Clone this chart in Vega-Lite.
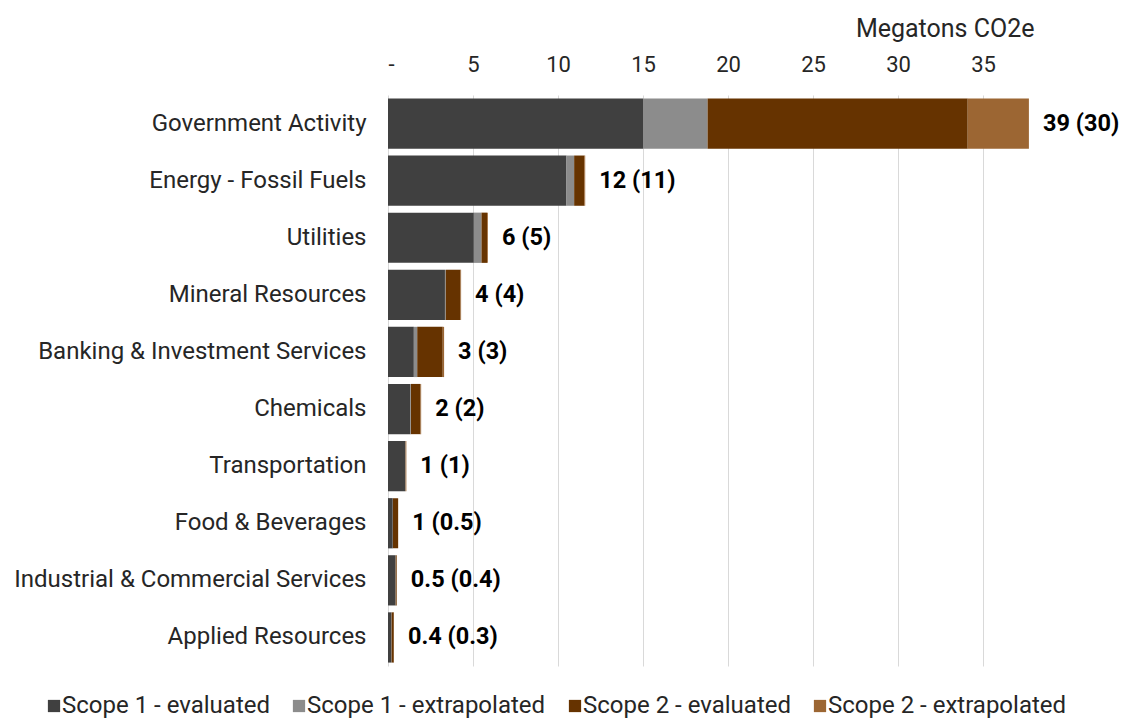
{
  "$schema": "https://vega.github.io/schema/vega-lite/v6.json",
  "width": 646,
  "height": 571,
  "autosize": {"type": "none"},
  "padding": {"left": 388, "top": 95, "right": 94, "bottom": 52},
  "background": "white",
  "config": {
    "font": "Roboto",
    "view": {"stroke": null}
  },
  "data": {
    "values": [
      {"category": "Government Activity", "scope": "Scope 1 - evaluated", "order": 1, "value": 15.0, "label": "39 (30)"},
      {"category": "Government Activity", "scope": "Scope 1 - extrapolated", "order": 2, "value": 3.8, "label": "39 (30)"},
      {"category": "Government Activity", "scope": "Scope 2 - evaluated", "order": 3, "value": 15.3, "label": "39 (30)"},
      {"category": "Government Activity", "scope": "Scope 2 - extrapolated", "order": 4, "value": 3.6, "label": "39 (30)"},
      {"category": "Energy - Fossil Fuels", "scope": "Scope 1 - evaluated", "order": 1, "value": 10.5, "label": "12 (11)"},
      {"category": "Energy - Fossil Fuels", "scope": "Scope 1 - extrapolated", "order": 2, "value": 0.45, "label": "12 (11)"},
      {"category": "Energy - Fossil Fuels", "scope": "Scope 2 - evaluated", "order": 3, "value": 0.6, "label": "12 (11)"},
      {"category": "Energy - Fossil Fuels", "scope": "Scope 2 - extrapolated", "order": 4, "value": 0.05, "label": "12 (11)"},
      {"category": "Utilities", "scope": "Scope 1 - evaluated", "order": 1, "value": 5.05, "label": "6 (5)"},
      {"category": "Utilities", "scope": "Scope 1 - extrapolated", "order": 2, "value": 0.45, "label": "6 (5)"},
      {"category": "Utilities", "scope": "Scope 2 - evaluated", "order": 3, "value": 0.33, "label": "6 (5)"},
      {"category": "Utilities", "scope": "Scope 2 - extrapolated", "order": 4, "value": 0.05, "label": "6 (5)"},
      {"category": "Mineral Resources", "scope": "Scope 1 - evaluated", "order": 1, "value": 3.35, "label": "4 (4)"},
      {"category": "Mineral Resources", "scope": "Scope 1 - extrapolated", "order": 2, "value": 0.05, "label": "4 (4)"},
      {"category": "Mineral Resources", "scope": "Scope 2 - evaluated", "order": 3, "value": 0.86, "label": "4 (4)"},
      {"category": "Mineral Resources", "scope": "Scope 2 - extrapolated", "order": 4, "value": 0.04, "label": "4 (4)"},
      {"category": "Banking & Investment Services", "scope": "Scope 1 - evaluated", "order": 1, "value": 1.52, "label": "3 (3)"},
      {"category": "Banking & Investment Services", "scope": "Scope 1 - extrapolated", "order": 2, "value": 0.2, "label": "3 (3)"},
      {"category": "Banking & Investment Services", "scope": "Scope 2 - evaluated", "order": 3, "value": 1.5, "label": "3 (3)"},
      {"category": "Banking & Investment Services", "scope": "Scope 2 - extrapolated", "order": 4, "value": 0.08, "label": "3 (3)"},
      {"category": "Chemicals", "scope": "Scope 1 - evaluated", "order": 1, "value": 1.32, "label": "2 (2)"},
      {"category": "Chemicals", "scope": "Scope 1 - extrapolated", "order": 2, "value": 0.03, "label": "2 (2)"},
      {"category": "Chemicals", "scope": "Scope 2 - evaluated", "order": 3, "value": 0.56, "label": "2 (2)"},
      {"category": "Chemicals", "scope": "Scope 2 - extrapolated", "order": 4, "value": 0.04, "label": "2 (2)"},
      {"category": "Transportation", "scope": "Scope 1 - evaluated", "order": 1, "value": 1.0, "label": "1 (1)"},
      {"category": "Transportation", "scope": "Scope 1 - extrapolated", "order": 2, "value": 0.03, "label": "1 (1)"},
      {"category": "Transportation", "scope": "Scope 2 - evaluated", "order": 3, "value": 0.02, "label": "1 (1)"},
      {"category": "Transportation", "scope": "Scope 2 - extrapolated", "order": 4, "value": 0.03, "label": "1 (1)"},
      {"category": "Food & Beverages", "scope": "Scope 1 - evaluated", "order": 1, "value": 0.28, "label": "1 (0.5)"},
      {"category": "Food & Beverages", "scope": "Scope 1 - extrapolated", "order": 2, "value": 0.01, "label": "1 (0.5)"},
      {"category": "Food & Beverages", "scope": "Scope 2 - evaluated", "order": 3, "value": 0.3, "label": "1 (0.5)"},
      {"category": "Food & Beverages", "scope": "Scope 2 - extrapolated", "order": 4, "value": 0.01, "label": "1 (0.5)"},
      {"category": "Industrial & Commercial Services", "scope": "Scope 1 - evaluated", "order": 1, "value": 0.44, "label": "0.5 (0.4)"},
      {"category": "Industrial & Commercial Services", "scope": "Scope 1 - extrapolated", "order": 2, "value": 0.01, "label": "0.5 (0.4)"},
      {"category": "Industrial & Commercial Services", "scope": "Scope 2 - evaluated", "order": 3, "value": 0.06, "label": "0.5 (0.4)"},
      {"category": "Industrial & Commercial Services", "scope": "Scope 2 - extrapolated", "order": 4, "value": 0.01, "label": "0.5 (0.4)"},
      {"category": "Applied Resources", "scope": "Scope 1 - evaluated", "order": 1, "value": 0.2, "label": "0.4 (0.3)"},
      {"category": "Applied Resources", "scope": "Scope 1 - extrapolated", "order": 2, "value": 0.01, "label": "0.4 (0.3)"},
      {"category": "Applied Resources", "scope": "Scope 2 - evaluated", "order": 3, "value": 0.13, "label": "0.4 (0.3)"},
      {"category": "Applied Resources", "scope": "Scope 2 - extrapolated", "order": 4, "value": 0.01, "label": "0.4 (0.3)"}
    ]
  },
  "encoding": {
    "y": {
      "field": "category",
      "type": "nominal",
      "sort": ["Government Activity", "Energy - Fossil Fuels", "Utilities", "Mineral Resources", "Banking & Investment Services", "Chemicals", "Transportation", "Food & Beverages", "Industrial & Commercial Services", "Applied Resources"],
      "scale": {"paddingInner": 0.12, "paddingOuter": 0.06},
      "axis": {
        "title": null,
        "orient": "left",
        "ticks": false,
        "domain": false,
        "labelFontSize": 24,
        "labelColor": "#262626",
        "labelPadding": 22,
        "labelLimit": 400
      }
    }
  },
  "layer": [
    {
      "mark": {"type": "bar"},
      "encoding": {
        "x": {
          "field": "value",
          "type": "quantitative",
          "stack": "zero",
          "scale": {"domain": [0, 38], "nice": false},
          "axis": {
            "orient": "top",
            "values": [0, 5, 10, 15, 20, 25, 30, 35],
            "labelExpr": "datum.value == 0 ? '-' : datum.label",
            "title": "Megatons CO2e",
            "titleAnchor": "end",
            "titleFontSize": 25,
            "titleFontWeight": "normal",
            "titleColor": "#262626",
            "titlePadding": 12,
            "labelFontSize": 22,
            "labelColor": "#262626",
            "labelPadding": 19,
            "ticks": false,
            "domain": false,
            "grid": true,
            "gridColor": "#d9d9d9",
            "gridWidth": 1
          }
        },
        "color": {
          "field": "scope",
          "type": "nominal",
          "scale": {
            "domain": ["Scope 1 - evaluated", "Scope 1 - extrapolated", "Scope 2 - evaluated", "Scope 2 - extrapolated"],
            "range": ["#404040", "#8c8c8c", "#663300", "#9c6633"]
          },
          "legend": {
            "title": null,
            "orient": "none",
            "direction": "horizontal",
            "legendX": -346,
            "legendY": 599,
            "symbolType": "square",
            "symbolSize": 150,
            "symbolStrokeWidth": 0,
            "symbolOpacity": 1,
            "labelFontSize": 24,
            "labelColor": "#262626",
            "labelOffset": -4,
            "columnPadding": 17,
            "labelLimit": 400
          }
        },
        "order": {"field": "order", "type": "quantitative"}
      }
    },
    {
      "mark": {"type": "text", "align": "left", "dx": 14, "fontSize": 23.5, "fontWeight": "bold", "color": "#000000"},
      "encoding": {
        "x": {"aggregate": "sum", "field": "value", "type": "quantitative"},
        "text": {"field": "label", "type": "nominal"}
      }
    }
  ]
}
